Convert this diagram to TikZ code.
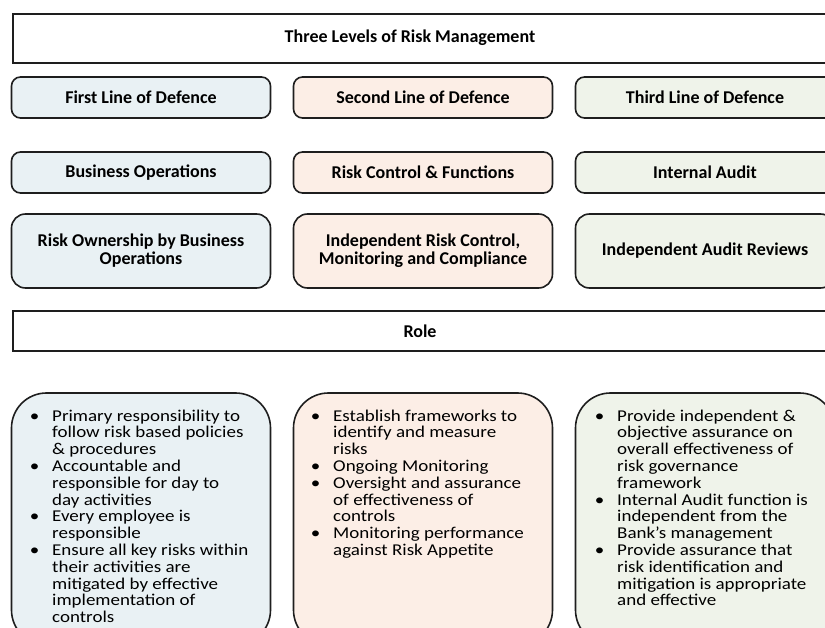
\documentclass[tikz,border=0pt]{standalone}
\usepackage{fontspec}
\setmainfont{Carlito}
\newfontfamily\listfont[FakeStretch=1.15]{Carlito}
\definecolor{firstfill}{HTML}{E9F1F4}
\definecolor{secondfill}{HTML}{FCEEE6}
\definecolor{thirdfill}{HTML}{EFF3EA}
\definecolor{edge}{HTML}{1E1E1E}
\newcommand\bul{\llap{\textbullet\hspace{13pt}}}
\begin{document}
\begin{tikzpicture}[x=1pt,y=-1pt,
  banner/.style={draw=edge, line width=2pt, rectangle, inner sep=0pt},
  bannertext/.style={font=\fontsize{18}{18}\selectfont\bfseries, inner sep=0pt},
  hdr/.style={draw=edge, line width=1.6pt, rounded corners=9pt, inner sep=0pt,
    minimum width=259pt, minimum height=41pt, align=center,
    font=\fontsize{18}{18}\selectfont\bfseries},
  tall/.style={hdr, rounded corners=14pt, minimum height=74pt},
  rolebox/.style={draw=edge, line width=1.6pt, rounded corners=35pt, inner sep=0pt,
    minimum width=259pt, minimum height=252pt},
  rolelist/.style={anchor=north west, inner sep=0pt, align=left,
    font=\listfont\fontsize{16.5}{16.8}\selectfont}
]
\useasboundingbox (0,0) rectangle (825,628);
\clip (0,0) rectangle (825,628);

% title banner
\node[banner, minimum width=830pt, minimum height=49pt, anchor=north west] (top) at (12,13) {};
\node[bannertext] (toptext) at (410,37.5) {Three Levels of Risk Management};

% lines of defence
\node[hdr, fill=firstfill]  (l1) at (141,97.5)  {First Line of Defence};
\node[hdr, fill=secondfill] (l2) at (423,97.5)  {Second Line of Defence};
\node[hdr, fill=thirdfill]  (l3) at (705,97.5)  {Third Line of Defence};

% functions
\node[hdr, fill=firstfill]  (f1) at (141,172.5) {Business Operations};
\node[hdr, fill=secondfill] (f2) at (423,172.5) {Risk Control \& Functions};
\node[hdr, fill=thirdfill]  (f3) at (705,172.5) {Internal Audit};

% responsibilities
\node[tall, fill=firstfill]  (r1) at (141,251) {Risk Ownership by Business\\Operations};
\node[tall, fill=secondfill] (r2) at (423,251) {Independent Risk Control,\\Monitoring and Compliance};
\node[tall, fill=thirdfill]  (r3) at (705,251) {Independent Audit Reviews};

% role banner
\node[banner, minimum width=830pt, minimum height=40pt, anchor=north west] (role) at (12,310.5) {};
\node[bannertext] (roletext) at (420,331) {Role};

% role descriptions
\node[rolebox, fill=firstfill]  (b1) at (141,519) {};
\node[rolebox, fill=secondfill] (b2) at (423,519) {};
\node[rolebox, fill=thirdfill]  (b3) at (705,519) {};

\node[rolelist] (t1) at (52,409.5) {%
\bul Primary responsibility to\\
follow risk based policies\\
\& procedures\\
\bul Accountable and\\
responsible for day to\\
day activities\\
\bul Every employee is\\
responsible\\
\bul Ensure all key risks within\\
their activities are\\
mitigated by effective\\
implementation of\\
controls};

\node[rolelist] (t2) at (333,409.5) {%
\bul Establish frameworks to\\
identify and measure\\
risks\\
\bul Ongoing Monitoring\\
\bul Oversight and assurance\\
of effectiveness of\\
controls\\
\bul Monitoring performance\\
against Risk Appetite};

\node[rolelist] (t3) at (617,409.5) {%
\bul Provide independent \&\\
objective assurance on\\
overall effectiveness of\\
risk governance\\
framework\\
\bul Internal Audit function is\\
independent from the\\
Bank’s management\\
\bul Provide assurance that\\
risk identification and\\
mitigation is appropriate\\
and effective};
\end{tikzpicture}
\end{document}
